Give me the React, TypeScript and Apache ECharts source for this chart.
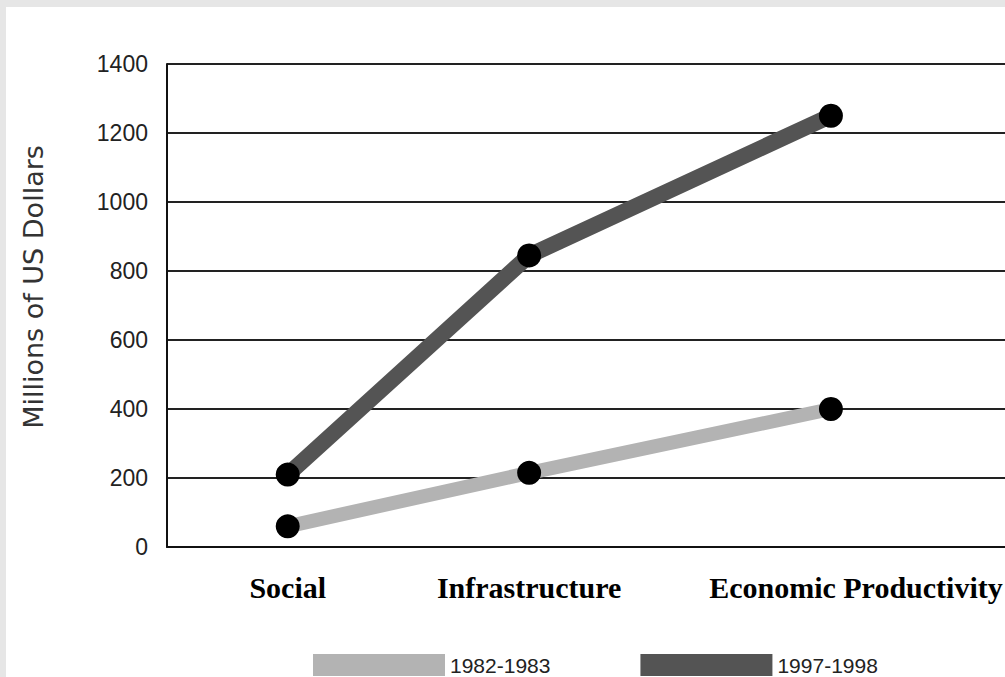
import React, { useEffect, useRef } from "react";
import * as echarts from "echarts";

// Spending by sector, two fiscal periods
const categories = ["Social", "Infrastructure", "Economic Productivity"];
const values1982 = [60, 215, 400];
const values1997 = [210, 845, 1250];
const seriesNames = ["1982-1983", "1997-1998"];
const yTicks = [0, 200, 400, 600, 800, 1000, 1200, 1400];

// Layout: the category axis is divided into evenly spaced slots,
// and each sector sits on one of them.
const SLOT_COUNT = 15;
const sectorSlots = [2, 6, 11];

function buildSlots() {
  const axisData: any[] = Array.from({ length: SLOT_COUNT }, () => ({ value: "" }));
  sectorSlots.forEach((slot, i) => {
    axisData[slot] = { value: categories[i] };
  });
  // the long last label sits a little to the right of its point
  axisData[sectorSlots[2]].textStyle = { padding: [0, 0, 0, 50] };
  return axisData;
}

function spread(values: number[]) {
  const out: (number | null)[] = Array.from({ length: SLOT_COUNT }, () => null);
  sectorSlots.forEach((slot, i) => {
    out[slot] = values[i];
  });
  return out;
}

export default function App() {
  const ref = useRef<HTMLDivElement>(null);

  useEffect(() => {
    if (!ref.current) return;
    const chart = echarts.init(ref.current, undefined, { renderer: "svg" });
    const lineColors = ["#b3b3b3", "#545454"];
    chart.setOption({
      animation: false,
      backgroundColor: "#ffffff",
      grid: {
        left: 161,
        width: 845,
        top: 57,
        bottom: 130,
        containLabel: false,
        outerBoundsMode: "none",
      },
      legend: {
        left: 307,
        top: 647,
        padding: 0,
        itemWidth: 132,
        itemHeight: 22,
        itemGap: 90,
        icon: "rect",
        data: seriesNames.map((n, i) => ({
          name: n,
          itemStyle: { color: lineColors[i], borderWidth: 0 },
        })),
        textStyle: {
          fontFamily: "Liberation Sans",
          fontSize: 21,
          lineHeight: 22,
          color: "#222",
        },
      },
      graphic: [
        {
          type: "text",
          x: 27,
          y: 280,
          rotation: Math.PI / 2,
          style: {
            text: "Millions of US Dollars",
            fontFamily: "DejaVu Sans",
            fontSize: 27,
            fill: "#333",
            align: "center",
            verticalAlign: "middle",
          },
        },
      ],
      xAxis: {
        type: "category",
        boundaryGap: false,
        data: buildSlots(),
        axisLine: { show: true, lineStyle: { color: "#111", width: 2 } },
        axisTick: { show: false },
        splitLine: { show: false },
        axisLabel: {
          interval: 0,
          margin: 25,
          fontFamily: "Liberation Serif",
          fontWeight: "bold",
          fontSize: 30,
          color: "#000",
        },
      },
      yAxis: {
        type: "value",
        min: 0,
        max: 1400,
        interval: 200,
        axisLine: { show: true, lineStyle: { color: "#111", width: 2 } },
        axisTick: { show: false },
        splitLine: { show: true, lineStyle: { color: "#222", width: 2 } },
        axisLabel: {
          margin: 19,
          fontFamily: "Liberation Sans",
          fontSize: 23,
          color: "#222",
          formatter: (v: number) => (yTicks.includes(v) ? String(v) : ""),
        },
      },
      series: [values1982, values1997].map((vals, i) => ({
        name: seriesNames[i],
        type: "line",
        data: spread(vals),
        connectNulls: true,
        lineStyle: { color: lineColors[i], width: i === 0 ? 14 : 16 },
        itemStyle: { color: "#000", borderWidth: 0 },
        symbol: "circle",
        symbolSize: 24,
        showSymbol: true,
        z: 3 + i,
      })),
    });
    return () => chart.dispose();
  }, []);

  return (
    <div
      style={{
        position: "fixed",
        left: 0,
        top: 0,
        width: 1005,
        height: 677,
        background: "#e6e6e6",
        overflow: "hidden",
      }}
    >
      <div
        ref={ref}
        style={{ position: "absolute", left: 6, top: 7, width: 999, height: 670 }}
      />
    </div>
  );
}
